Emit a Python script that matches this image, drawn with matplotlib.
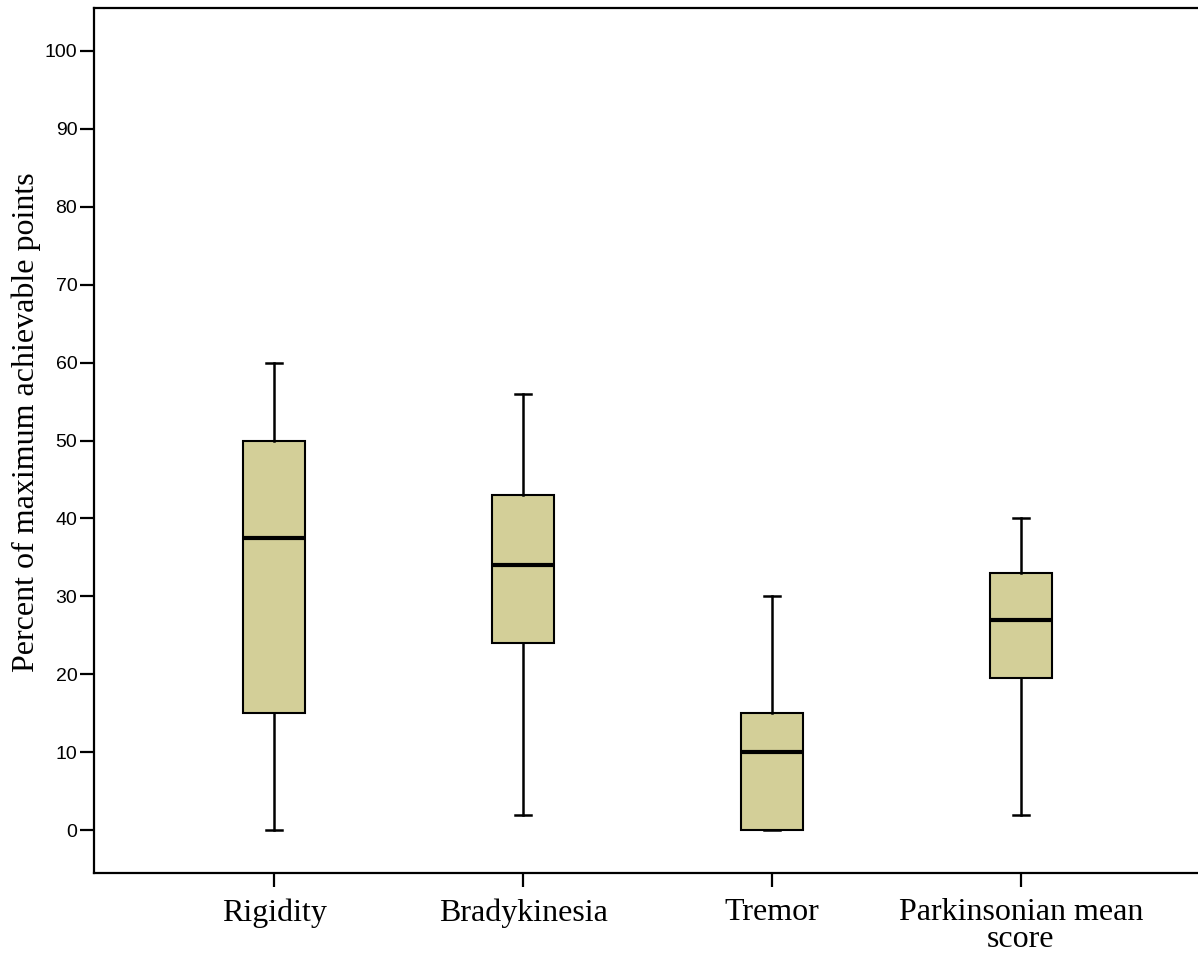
"""Boxplot of parkinsonian sub-scores (percent of maximum achievable points)."""
import matplotlib
matplotlib.use("Agg")
import matplotlib.pyplot as plt

# Valeurs
categories = ["Rigidity", "Bradykinesia", "Tremor", "Parkinsonian mean\nscore"]
whisker_low = [0, 2, 0, 2]
q1 = [15, 24, 0, 19.5]
median = [37.5, 34, 10, 27]
q3 = [50, 43, 15, 33]
whisker_high = [60, 56, 30, 40]
yticks = list(range(0, 101, 10))

BOX_COLOR = "#D3CF98"

stats = []
for lab, lo, a, m, b, hi in zip(categories, whisker_low, q1, median, q3, whisker_high):
    stats.append({"label": lab, "whislo": lo, "q1": a, "med": m, "q3": b,
                  "whishi": hi, "fliers": []})

fig = plt.figure(figsize=(11.98, 9.6), dpi=100)
ax = fig.add_axes([94 / 1198, 1 - 873 / 960, 1105 / 1198, 865 / 960])

positions = list(range(1, len(categories) + 1))
ax.bxp(stats, positions=positions, widths=0.25, patch_artist=True,
       showfliers=False,
       boxprops=dict(facecolor=BOX_COLOR, edgecolor="black", linewidth=1.5),
       medianprops=dict(color="black", linewidth=3),
       whiskerprops=dict(color="black", linewidth=1.8),
       capprops=dict(color="black", linewidth=1.8),
       capwidths=0.065)

ax.set_xlim(0.277, 4.715)
ax.set_ylim(-5.5, 105.5)
ax.set_yticks(yticks)
ax.set_yticklabels([str(t) for t in yticks], family="Liberation Sans", fontsize=14)
ax.set_xticks(positions)
ax.set_xticklabels(categories, family="Liberation Serif", fontsize=23, linespacing=0.9)
ax.tick_params(axis="both", direction="out", length=10, width=1.6, color="black")
ax.tick_params(axis="x", pad=8)
ax.tick_params(axis="y", pad=2)

ax.set_ylabel("Percent of maximum achievable points", family="Liberation Serif",
              fontsize=23, labelpad=3)
# le libellé est légèrement décalé vers le haut dans l'original
ax.yaxis.label.set_y(0.521)

for side in ("left", "top", "bottom"):
    ax.spines[side].set_linewidth(1.6)
ax.spines["right"].set_visible(False)

fig.savefig("out.png", dpi=100)
